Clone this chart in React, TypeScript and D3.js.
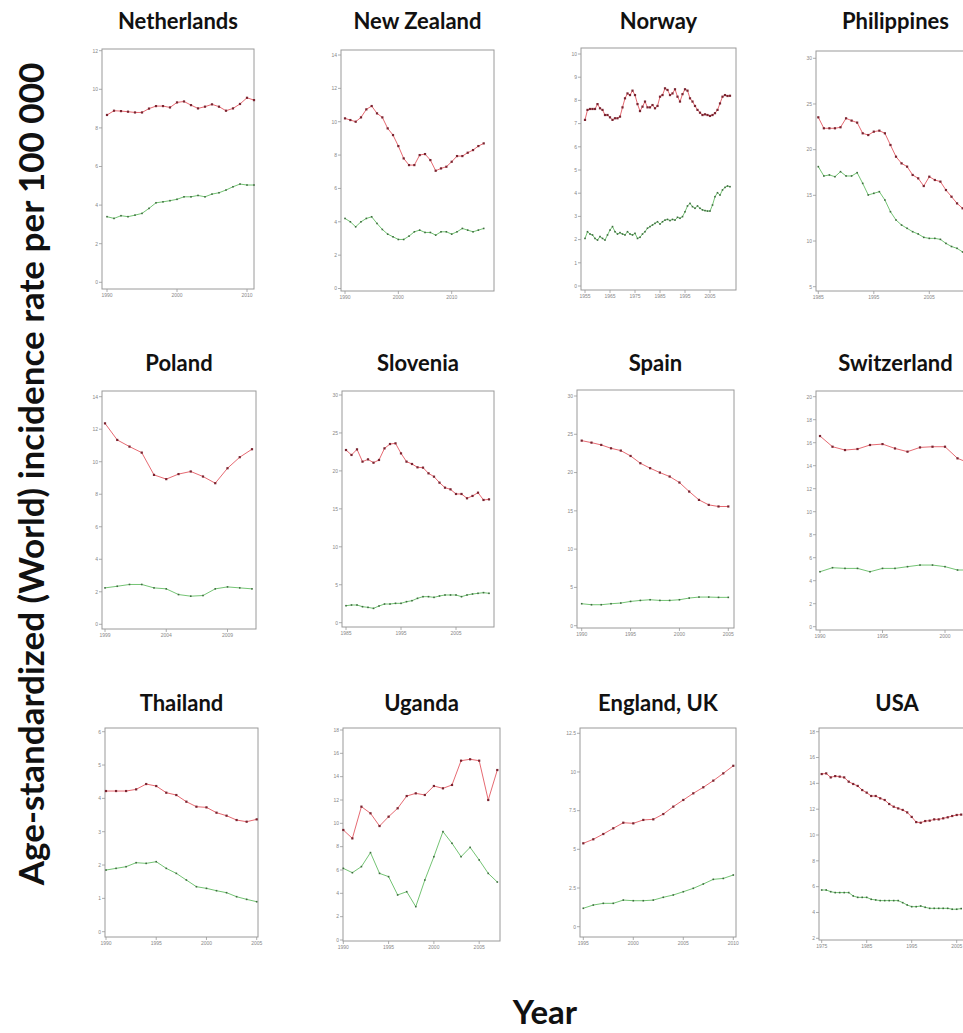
import React from "react";
import * as d3 from "d3";

// ---------------- data ----------------
const netherlandsRed = [8.67, 8.89, 8.87, 8.84, 8.8, 8.8, 9.0, 9.13, 9.13, 9.06, 9.32, 9.37, 9.18, 9.01, 9.1, 9.22, 9.1, 8.89, 9.01, 9.24, 9.56, 9.44];
const netherlandsGreen = [3.4, 3.31, 3.45, 3.4, 3.48, 3.57, 3.83, 4.12, 4.17, 4.23, 4.3, 4.43, 4.43, 4.5, 4.43, 4.57, 4.64, 4.78, 4.95, 5.09, 5.04, 5.04];

const nzRed = [10.2, 10.1, 10.0, 10.26, 10.74, 10.94, 10.5, 10.26, 9.6, 9.2, 8.54, 7.8, 7.4, 7.4, 8.0, 8.06, 7.7, 7.06, 7.2, 7.3, 7.6, 7.94, 7.94, 8.14, 8.3, 8.54, 8.7];
const nzGreen = [4.2, 4.0, 3.7, 4.0, 4.2, 4.3, 3.9, 3.54, 3.26, 3.1, 2.94, 2.94, 3.14, 3.4, 3.5, 3.36, 3.36, 3.2, 3.4, 3.4, 3.26, 3.4, 3.6, 3.5, 3.4, 3.5, 3.6];

const norwayRed = [7.16, 7.59, 7.63, 7.63, 7.63, 7.84, 7.66, 7.59, 7.37, 7.37, 7.27, 7.16, 7.23, 7.23, 7.3, 7.7, 8.09, 8.3, 8.23, 8.42, 8.23, 7.84, 7.54, 7.73, 7.95, 7.7, 7.7, 7.8, 7.66, 7.76, 8.16, 8.23, 8.52, 8.45, 8.23, 8.3, 8.48, 8.16, 7.95, 8.27, 8.48, 8.42, 8.09, 7.95, 7.76, 7.59, 7.47, 7.37, 7.4, 7.37, 7.33, 7.37, 7.45, 7.59, 7.87, 8.16, 8.23, 8.19, 8.2];
const norwayGreen = [2.05, 2.34, 2.24, 2.2, 2.05, 1.98, 2.13, 2.05, 1.98, 2.2, 2.41, 2.56, 2.34, 2.24, 2.3, 2.24, 2.2, 2.34, 2.24, 2.2, 2.27, 2.05, 2.1, 2.24, 2.34, 2.49, 2.56, 2.63, 2.7, 2.77, 2.67, 2.77, 2.84, 2.87, 2.82, 2.87, 2.84, 2.96, 2.92, 2.99, 3.2, 3.45, 3.56, 3.42, 3.35, 3.45, 3.35, 3.28, 3.25, 3.23, 3.23, 3.49, 3.85, 4.02, 3.92, 4.14, 4.25, 4.31, 4.28];

const philippinesRed = [23.54, 22.34, 22.34, 22.34, 22.45, 23.43, 23.18, 22.96, 21.79, 21.6, 21.97, 22.08, 21.79, 20.51, 19.23, 18.5, 18.14, 17.23, 16.86, 16.02, 17.04, 16.68, 16.5, 15.58, 14.85, 14.12, 13.58, 13.1];
const philippinesGreen = [18.14, 17.12, 17.23, 17.04, 17.59, 17.12, 17.12, 17.48, 16.31, 15.04, 15.22, 15.4, 14.49, 13.21, 12.3, 11.75, 11.39, 11.02, 10.77, 10.4, 10.29, 10.29, 10.18, 9.74, 9.4, 9.2, 8.8, 8.5];

const polandRed = [12.36, 11.34, 10.93, 10.56, 9.19, 8.93, 9.24, 9.4, 9.09, 8.68, 9.6, 10.28, 10.77];
const polandGreen = [2.24, 2.34, 2.45, 2.45, 2.24, 2.18, 1.83, 1.73, 1.77, 2.18, 2.3, 2.24, 2.18];

const sloveniaRed = [22.75, 22.1, 22.84, 21.22, 21.52, 21.08, 21.44, 22.97, 23.54, 23.63, 22.31, 21.22, 20.91, 20.47, 20.43, 19.68, 19.24, 18.45, 17.79, 17.57, 16.96, 16.96, 16.39, 16.7, 17.13, 16.17, 16.25];
const sloveniaGreen = [2.24, 2.33, 2.33, 2.11, 2.02, 1.89, 2.2, 2.46, 2.46, 2.55, 2.55, 2.77, 2.9, 3.21, 3.43, 3.43, 3.34, 3.52, 3.65, 3.65, 3.65, 3.43, 3.65, 3.78, 3.87, 3.96, 3.87];

const spainRed = [24.17, 23.91, 23.61, 23.17, 22.87, 22.17, 21.22, 20.57, 20.0, 19.48, 18.7, 17.52, 16.43, 15.78, 15.57, 15.57];
const spainGreen = [2.87, 2.74, 2.74, 2.87, 2.96, 3.17, 3.3, 3.39, 3.3, 3.3, 3.39, 3.61, 3.74, 3.74, 3.7, 3.7];

const switzerlandRed = [16.58, 15.65, 15.36, 15.45, 15.8, 15.88, 15.5, 15.22, 15.59, 15.65, 15.65, 14.64, 14.2];
const switzerlandGreen = [4.78, 5.13, 5.07, 5.07, 4.78, 5.07, 5.07, 5.22, 5.36, 5.36, 5.22, 4.93, 4.93];

const thailandRed = [4.22, 4.22, 4.22, 4.27, 4.43, 4.37, 4.17, 4.1, 3.9, 3.75, 3.73, 3.57, 3.48, 3.35, 3.3, 3.37];
const thailandGreen = [1.85, 1.9, 1.95, 2.07, 2.05, 2.1, 1.9, 1.75, 1.55, 1.35, 1.3, 1.23, 1.17, 1.05, 0.97, 0.9];

const ugandaRed = [9.43, 8.71, 11.43, 10.86, 9.77, 10.57, 11.29, 12.34, 12.57, 12.43, 13.2, 13.0, 13.29, 15.37, 15.49, 15.37, 12.0, 14.57];
const ugandaGreen = [6.14, 5.77, 6.29, 7.49, 5.71, 5.43, 3.86, 4.14, 2.86, 5.14, 7.14, 9.29, 8.29, 7.14, 7.94, 6.86, 5.71, 4.97];

const englandRed = [5.39, 5.65, 5.99, 6.36, 6.72, 6.68, 6.9, 6.94, 7.28, 7.76, 8.19, 8.62, 9.01, 9.44, 9.91, 10.4];
const englandGreen = [1.19, 1.4, 1.51, 1.51, 1.72, 1.68, 1.68, 1.72, 1.9, 2.05, 2.26, 2.48, 2.76, 3.06, 3.12, 3.34];

const usaRed = [14.72, 14.77, 14.46, 14.56, 14.52, 14.46, 14.13, 13.95, 13.8, 13.48, 13.28, 13.02, 13.02, 12.84, 12.71, 12.4, 12.19, 12.06, 11.94, 11.75, 11.4, 11.0, 10.95, 11.08, 11.11, 11.21, 11.21, 11.29, 11.37, 11.47, 11.55, 11.58];
const usaGreen = [5.74, 5.74, 5.61, 5.54, 5.54, 5.54, 5.54, 5.28, 5.17, 5.17, 5.17, 5.02, 4.97, 4.92, 4.92, 4.92, 4.92, 4.92, 4.76, 4.58, 4.45, 4.45, 4.5, 4.4, 4.32, 4.32, 4.32, 4.32, 4.32, 4.25, 4.25, 4.3];

const countries = ["Netherlands", "New Zealand", "Norway", "Philippines", "Poland", "Slovenia", "Spain", "Switzerland", "Thailand", "Uganda", "England, UK", "USA"];
const startYears = [1990, 1990, 1955, 1985, 1999, 1985, 1990, 1990, 1990, 1990, 1995, 1975];
const yTickSets = [
  [0, 2, 4, 6, 8, 10, 12],
  [0, 2, 4, 6, 8, 10, 12, 14],
  [0, 1, 2, 3, 4, 5, 6, 7, 8, 9, 10],
  [5, 10, 15, 20, 25, 30],
  [0, 2, 4, 6, 8, 10, 12, 14],
  [0, 5, 10, 15, 20, 25, 30],
  [0, 5, 10, 15, 20, 25, 30],
  [0, 2, 4, 6, 8, 10, 12, 14, 16, 18, 20],
  [0, 1, 2, 3, 4, 5, 6],
  [0, 2, 4, 6, 8, 10, 12, 14, 16, 18],
  [0, 2.5, 5, 7.5, 10, 12.5],
  [2, 4, 6, 8, 10, 12, 14, 16, 18],
];
const xTickSets = [
  [1990, 2000, 2010],
  [1990, 2000, 2010],
  [1955, 1965, 1975, 1985, 1995, 2005],
  [1985, 1995, 2005],
  [1999, 2004, 2009],
  [1985, 1995, 2005],
  [1990, 1995, 2000, 2005],
  [1990, 1995, 2000],
  [1990, 1995, 2000, 2005],
  [1990, 1995, 2000, 2005],
  [1995, 2000, 2005, 2010],
  [1975, 1985, 1995, 2005],
];
const redSeries = [netherlandsRed, nzRed, norwayRed, philippinesRed, polandRed, sloveniaRed, spainRed, switzerlandRed, thailandRed, ugandaRed, englandRed, usaRed];
const greenSeries = [netherlandsGreen, nzGreen, norwayGreen, philippinesGreen, polandGreen, sloveniaGreen, spainGreen, switzerlandGreen, thailandGreen, ugandaGreen, englandGreen, usaGreen];

// ---------------- layout ----------------
// box: [x0, y0, x1, y1]; yCal: [v0, px0, v1, px1]; xCal: [year0, px0, year1, px1]
const layout = [
  { box: [102, 49, 254, 289], yCal: [0, 282.3, 12, 50.7], xCal: [1990, 107, 2010, 247] },
  { box: [341, 50, 494, 291], yCal: [0, 288.5, 14, 55], xCal: [1990, 345, 2016, 483.7] },
  { box: [581, 48, 736, 290], yCal: [0, 286, 10, 54], xCal: [1955, 585, 2013, 730] },
  { box: [816, 51, 975, 291], yCal: [5, 286.7, 30, 58.3], xCal: [1985, 818.3, 2011, 962.6] },
  { box: [102, 391, 256, 629], yCal: [0, 624.3, 14, 396.7], xCal: [1999, 105, 2011, 252] },
  { box: [342, 391, 494, 627], yCal: [0, 622.7, 30, 395], xCal: [1985, 346, 2011, 489] },
  { box: [577, 390, 734, 628], yCal: [0, 625.7, 30, 396], xCal: [1990, 581.7, 2005, 728.3] },
  { box: [816, 391, 975, 630], yCal: [0, 626.7, 20, 396.7], xCal: [1990, 820, 2002, 970] },
  { box: [105, 728, 258, 937], yCal: [0, 931.7, 6, 731.7], xCal: [1990, 106, 2005, 256.7] },
  { box: [343, 728, 500, 941], yCal: [0, 940, 18, 730], xCal: [1990, 343.3, 2007, 497.3] },
  { box: [580, 728, 736, 937], yCal: [0, 926.7, 12.5, 733.3], xCal: [1995, 583.3, 2010, 733.3] },
  { box: [819, 728, 975, 940], yCal: [2, 938.3, 18, 731.7], xCal: [1975, 821.7, 2006, 961.2] },
];
const titleBaselines = [29, 29, 29, 29, 371, 371, 371, 371, 711, 711, 711, 711];

const RED_LINE = "#e66a72";
const RED_DOT = "#7a2430";
const GREEN_LINE = "#74c474";
const GREEN_DOT = "#3d6b3d";
const FONT = "Lato, 'Open Sans', sans-serif";

function Panel({ i }: { i: number }) {
  const L = layout[i];
  const [bx0, by0, bx1, by1] = L.box;
  const x = d3.scaleLinear().domain([L.xCal[0], L.xCal[2]]).range([L.xCal[1], L.xCal[3]]);
  const y = d3.scaleLinear().domain([L.yCal[0], L.yCal[2]]).range([L.yCal[1], L.yCal[3]]);
  const start = startYears[i];
  const line = d3
    .line<number>()
    .x((_, k) => x(start + k))
    .y((d) => y(d));
  const red = redSeries[i];
  const green = greenSeries[i];
  const cx = (bx0 + bx1) / 2;
  return (
    <g>
      <text x={cx} y={titleBaselines[i]} textAnchor="middle" fontFamily={FONT} fontWeight={700} fontSize={22} fill="#111">
        {countries[i]}
      </text>
      <rect x={bx0} y={by0} width={bx1 - bx0} height={by1 - by0} fill="#fff" stroke="#9a9a9a" strokeWidth={1} />
      {yTickSets[i].map((t) => (
        <g key={"y" + t}>
          <line x1={bx0 - 3} x2={bx0} y1={y(t)} y2={y(t)} stroke="#999" strokeWidth={0.8} />
          <text x={bx0 - 4} y={y(t) + 1.8} textAnchor="end" fontSize={5} fontFamily="'Liberation Sans', sans-serif" fill="#888">
            {t}
          </text>
        </g>
      ))}
      {xTickSets[i].map((t) => (
        <g key={"x" + t}>
          <line x1={x(t)} x2={x(t)} y1={by1} y2={by1 + 3} stroke="#999" strokeWidth={0.8} />
          <text x={x(t)} y={by1 + 8} textAnchor="middle" fontSize={5} fontFamily="'Liberation Sans', sans-serif" fill="#888">
            {t}
          </text>
        </g>
      ))}
      <path d={line(red) || ""} fill="none" stroke={RED_LINE} strokeWidth={1} />
      <path d={line(green) || ""} fill="none" stroke={GREEN_LINE} strokeWidth={1} />
      {red.map((d, k) => (
        <rect key={"r" + k} x={x(start + k) - 1.1} y={y(d) - 1.1} width={2.2} height={2.2} fill={RED_DOT} />
      ))}
      {green.map((d, k) => (
        <rect key={"g" + k} x={x(start + k) - 0.8} y={y(d) - 0.8} width={1.6} height={1.6} fill={GREEN_DOT} />
      ))}
    </g>
  );
}

export default function App() {
  return (
    <svg
      width={963}
      height={1033}
      viewBox="0 0 963 1033"
      style={{ position: "absolute", left: 0, top: 0, background: "#fff" }}
    >
      <rect x={0} y={0} width={963} height={1033} fill="#fff" />
      {countries.map((_, i) => (
        <Panel key={i} i={i} />
      ))}
      <text
        transform="translate(44,474) rotate(-90)"
        textAnchor="middle"
        fontFamily={FONT}
        fontWeight={700}
        fontSize={35}
        fill="#111"
      >
        Age-standardized (World) incidence rate per 100 000
      </text>
      <text x={545} y={1024} textAnchor="middle" fontFamily={FONT} fontWeight={700} fontSize={33} fill="#111">
        Year
      </text>
    </svg>
  );
}
